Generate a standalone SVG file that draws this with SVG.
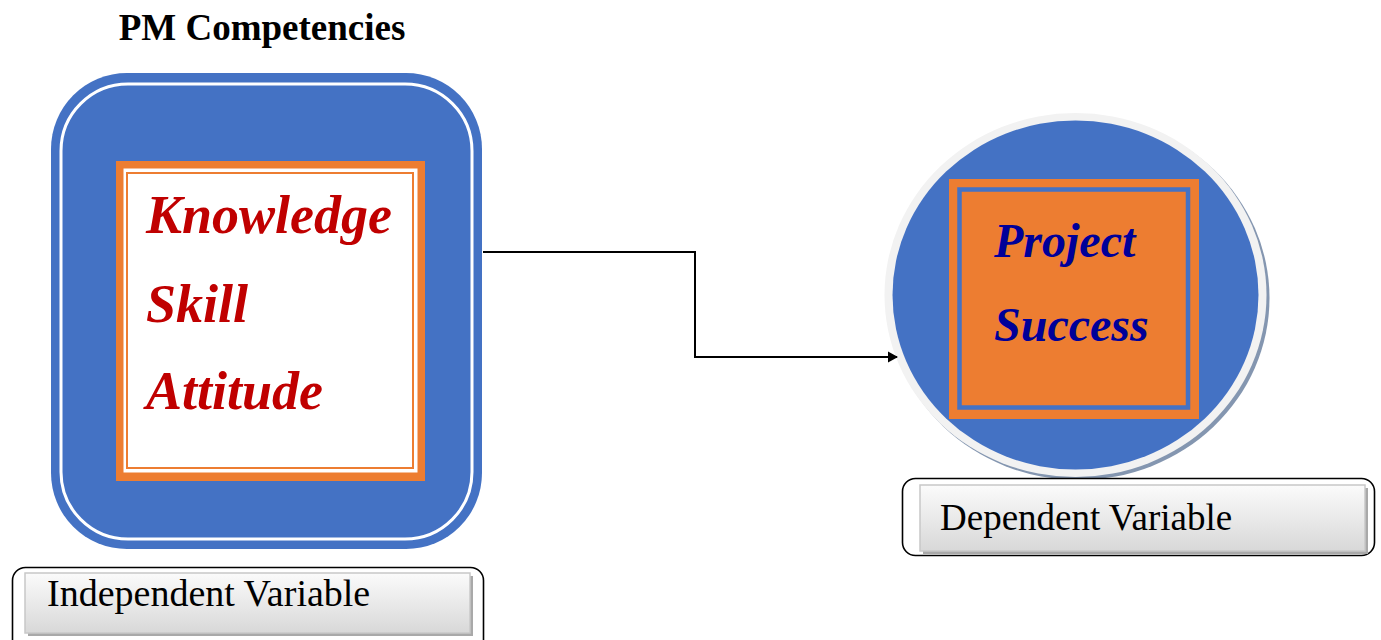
<svg xmlns="http://www.w3.org/2000/svg" width="1381" height="640" viewBox="0 0 1381 640">
<defs>
<style>
.serif{font-family:"Liberation Serif","Times New Roman",serif;}
.big{font-weight:bold;font-style:italic;}
.lbl{fill:#000;}
.outerbox{fill:#fff;stroke:#000;stroke-width:1.6;}
.innerbox{fill:url(#lg);stroke:#c8c8c8;stroke-width:1.5;}
.shadow{fill:#a9a9a9;}
</style>
<linearGradient id="lg" x1="0" y1="0" x2="0" y2="1">
<stop offset="0" stop-color="#fbfbfb"/>
<stop offset="1" stop-color="#d8d8d8"/>
</linearGradient>
<marker id="arr" markerWidth="12" markerHeight="12" refX="9" refY="6" orient="auto" markerUnits="userSpaceOnUse">
<path d="M0,0.5 L10,6 L0,11.5 Z" fill="#000"/>
</marker>
</defs>
<rect width="1381" height="640" fill="#fff"/>

<text class="serif" x="262" y="40" font-size="37" font-weight="bold" text-anchor="middle">PM Competencies</text>

<g id="pm-competencies">
<rect x="51" y="73" width="431" height="476" rx="76" fill="#4472C4"/>
<rect x="61" y="84" width="411" height="455" rx="67" fill="none" stroke="#fff" stroke-width="3"/>
<rect x="116" y="161" width="309" height="320" fill="#ED7D31"/>
<rect x="123.5" y="168.5" width="294" height="304" fill="#fff"/>
<rect x="127" y="173" width="286" height="295" fill="none" stroke="#ED7D31" stroke-width="2"/>
<text class="serif big" x="146" y="233" font-size="54" fill="#C00000">Knowledge</text>
<text class="serif big" x="146" y="322" font-size="54" fill="#C00000">Skill</text>
<text class="serif big" x="146" y="409" font-size="54" fill="#C00000">Attitude</text>
</g>

<g id="project-success">
<ellipse cx="1078.5" cy="298" rx="191" ry="182" fill="#8496B0"/>
<ellipse cx="1075.5" cy="295" rx="191" ry="182" fill="#F2F2F2"/>
<ellipse cx="1075.5" cy="295" rx="183" ry="174.5" fill="#4472C4"/>
<rect x="949" y="179" width="250" height="240" fill="#ED7D31"/>
<rect x="959.5" y="189.5" width="228.5" height="218" fill="none" stroke="#4472C4" stroke-width="4.5"/>
<text class="serif big" x="994" y="257" font-size="48" fill="#000099">Project</text>
<text class="serif big" x="994" y="341" font-size="48" fill="#000099">Success</text>
</g>

<g id="independent-variable">
<rect class="outerbox" x="12.5" y="567.5" width="471" height="95" rx="13"/>
<rect class="shadow" x="28" y="576" width="445" height="60"/>
<rect class="innerbox" x="25" y="573" width="445" height="60"/>
<text class="serif lbl" x="47" y="606" font-size="38">Independent Variable</text>
</g>

<g id="dependent-variable">
<rect class="outerbox" x="902.5" y="478.5" width="472" height="77" rx="13"/>
<rect class="shadow" x="923" y="488" width="445" height="66"/>
<rect class="innerbox" x="920" y="485" width="445" height="66"/>
<text class="serif lbl" x="940" y="530" font-size="37">Dependent Variable</text>
</g>

<g id="connectors">
<path d="M483,252 H695 V357 H897" fill="none" stroke="#000" stroke-width="2" marker-end="url(#arr)"/>
</g>
</svg>
